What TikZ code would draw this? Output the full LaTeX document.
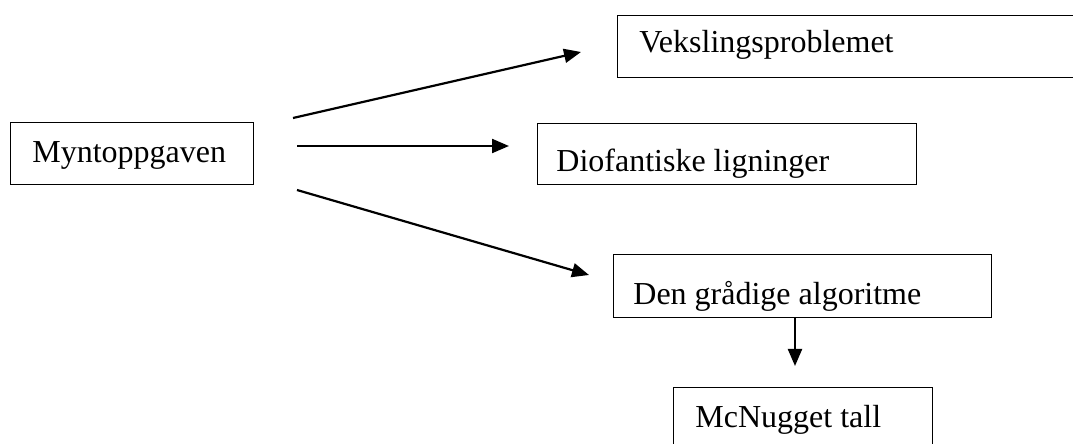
\documentclass[tikz,border=0pt]{standalone}
\usepackage{fontspec}
\setmainfont{Liberation Serif}
\usetikzlibrary{arrows.meta}
\begin{document}
\begin{tikzpicture}[x=0.5pt,y=-0.5pt,
  box/.style={draw, line width=0.7pt, inner sep=0pt, anchor=north west},
  lbl/.style={inner sep=0pt, anchor=base west, font=\fontsize{16}{19}\selectfont},
  conn/.style={line width=1.1pt, -{Triangle[length=8.5pt,width=7pt]}}]
\useasboundingbox (0,0) rectangle (1073,444);
\clip (0,0) rectangle (1073,444);
\fill[white] (0,0) rectangle (1073,444);
\node[box, minimum width=121.5pt, minimum height=31pt] (mb) at (10,122) {};
\node[box, minimum width=236.5pt, minimum height=31pt] (vb) at (617,15) {};
\node[box, minimum width=189.5pt, minimum height=30.5pt] (db) at (537,123) {};
\node[box, minimum width=189pt, minimum height=31.5pt] (gb) at (613,254) {};
\node[box, minimum width=129.5pt, minimum height=36.5pt] (nb) at (673,387) {};
\node[lbl] (mt) at (32,163) {Myntoppgaven};
\node[lbl] (vt) at (639,53) {Vekslingsproblemet};
\node[lbl] (dt) at (556,172) {Diofantiske ligninger};
\node[lbl] (gt) at (633,305) {Den grådige algoritme};
\node[lbl] (nt) at (695,428) {McNugget tall};
\coordinate (a1s) at (293,118); \coordinate (a1e) at (581,52);
\coordinate (a2s) at (297,146); \coordinate (a2e) at (509,146);
\coordinate (a3s) at (297,190); \coordinate (a3e) at (589,275);
\coordinate (a4s) at (795,318); \coordinate (a4e) at (795,366);
\draw[conn] (a1s) -- (a1e);
\draw[conn] (a2s) -- (a2e);
\draw[conn] (a3s) -- (a3e);
\draw[conn] (a4s) -- (a4e);
\end{tikzpicture}
\end{document}
